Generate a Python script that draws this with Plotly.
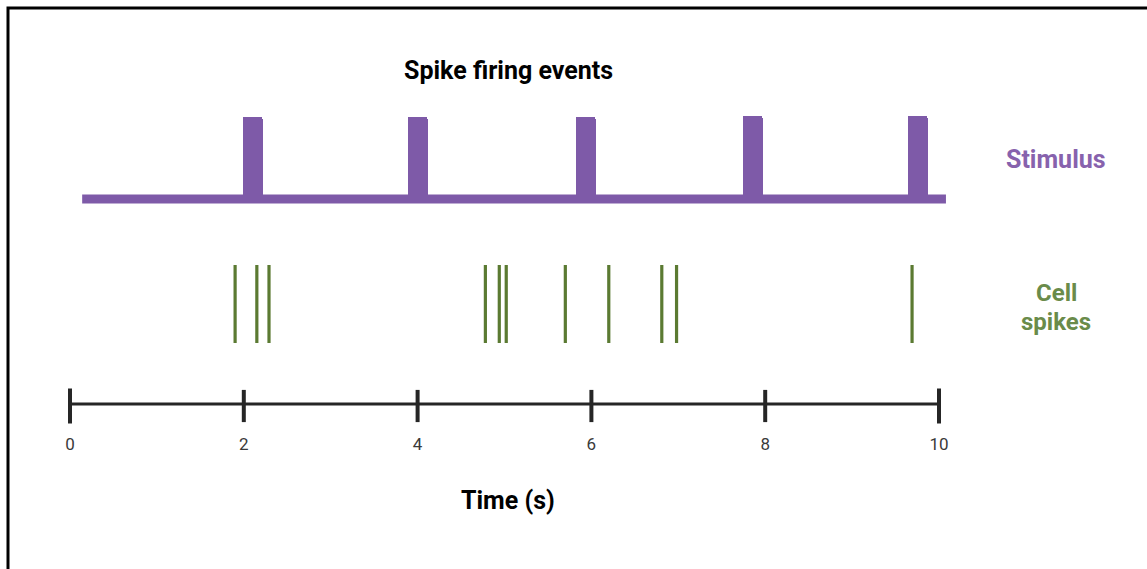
import plotly.graph_objects as go

# ---- data ----
tick_vals = [0, 2, 4, 6, 8, 10]
tick_text = ["0", "2", "4", "6", "8", "10"]
stim_onsets = [1.98, 3.89, 5.82, 7.74, 9.64]      # s
pulse_width = 0.23                                 # s
pulse_heights = [1.0, 1.0, 1.0, 1.02, 1.02]        # relative amplitude
stim_start, stim_end = 0.14, 10.08                 # s
spike_times = [1.90, 2.15, 2.29, 4.78, 4.94, 5.02, 5.70, 6.20, 6.81, 6.98, 9.69]

PURPLE = "#7e5aa8"
PURPLE_TXT = "#8762ad"
GREEN = "#5b7a32"
GREEN_TXT = "#6a8b4a"
AXIS = "#262626"

W, H = 1147, 569
x_px0, x_scale = 70, 86.9           # pixel of t=0 and px per second
xr = [-0.5, 10.5]
def xdom(r):
    return [(x_px0 + x_scale * r[0]) / W, (x_px0 + x_scale * r[1]) / W]

def ydom(px_level0, px_per_unit, r):
    lo = px_level0 - px_per_unit * r[0]
    hi = px_level0 - px_per_unit * r[1]
    return [1 - lo / H, 1 - hi / H]

fig = go.Figure()

# stimulus baseline
fig.add_trace(go.Scatter(
    x=[stim_start, stim_end], y=[0, 0], mode="lines",
    line=dict(color=PURPLE, width=9), xaxis="x", yaxis="y",
    hoverinfo="skip", showlegend=False))
# stimulus pulses
fig.add_trace(go.Bar(
    x=[o + pulse_width / 2 for o in stim_onsets], y=pulse_heights, base=0,
    width=pulse_width, marker=dict(color=PURPLE, line=dict(width=0)),
    xaxis="x", yaxis="y", showlegend=False, hoverinfo="skip"))

# spikes
sx, sy = [], []
for t in spike_times:
    sx += [t, t, None]
    sy += [0, 1, None]
fig.add_trace(go.Scatter(
    x=sx, y=sy, mode="lines", line=dict(color=GREEN, width=3.2),
    xaxis="x", yaxis="y2", showlegend=False, hoverinfo="skip"))

# time axis line with crossing ticks
fig.add_trace(go.Scatter(
    x=[tick_vals[0], tick_vals[-1]], y=[0, 0], mode="lines",
    line=dict(color=AXIS, width=3), xaxis="x", yaxis="y3",
    showlegend=False, hoverinfo="skip"))
fig.add_trace(go.Scatter(
    x=tick_vals, y=[-0.1] * len(tick_vals), mode="markers",
    marker=dict(symbol="line-ns", size=[25, 23, 23, 23, 23, 25],
                color=AXIS, opacity=1,
                line=dict(color=AXIS, width=4)),
    xaxis="x", yaxis="y3", cliponaxis=False,
    showlegend=False, hoverinfo="skip"))

yr1 = [-0.2, 1.1]
yr2 = [-0.1, 1.1]
yr3 = [-1, 1]

fig.update_layout(
    width=W, height=H,
    margin=dict(l=0, r=0, t=0, b=0),
    paper_bgcolor="white", plot_bgcolor="rgba(0,0,0,0)",
    bargap=0, barcornerradius=2,
    xaxis=dict(domain=xdom(xr), range=xr, anchor="free",
               position=1 - 404 / H,
               tickmode="array", tickvals=tick_vals, ticktext=tick_text,
               ticks="", showline=False, showgrid=False, zeroline=False,
               ticklabelstandoff=28,
               tickfont=dict(family="Roboto", size=17, color="#3a3a3a")),
    yaxis=dict(domain=ydom(199, 82, yr1), range=yr1, visible=False,
               anchor="x"),
    yaxis2=dict(domain=ydom(343, 78, yr2), range=yr2, visible=False,
                anchor="x"),
    yaxis3=dict(domain=ydom(404, 20, yr3), range=yr3, visible=False,
                anchor="x"),
    showlegend=False,
    shapes=[dict(type="rect", xref="paper", yref="paper",
                 x0=8 / W, x1=1.01, y0=-0.02, y1=1 - 8 / H,
                 line=dict(color="black", width=3), layer="above")],
    annotations=[
        dict(text="Spike firing events", xref="paper", yref="paper",
             x=508 / W, y=1 - 70 / H, xanchor="center", yanchor="middle",
             showarrow=False,
             font=dict(family="Roboto", size=25, weight=700, color="black")),
        dict(text="Stimulus", xref="paper", yref="paper",
             x=1056 / W, y=1 - 160 / H, xanchor="center", yanchor="middle",
             showarrow=False,
             font=dict(family="Roboto", size=25, weight=700, color=PURPLE_TXT)),
        dict(text="Cell", xref="paper", yref="paper",
             x=1056 / W, y=1 - 293 / H, xanchor="center", yanchor="middle",
             showarrow=False,
             font=dict(family="Roboto", size=24, weight=700, color=GREEN_TXT)),
        dict(text="spikes", xref="paper", yref="paper",
             x=1056 / W, y=1 - 322 / H, xanchor="center", yanchor="middle",
             showarrow=False,
             font=dict(family="Roboto", size=24, weight=700, color=GREEN_TXT)),
        dict(text="Time (s)", xref="paper", yref="paper",
             x=508 / W, y=1 - 500 / H, xanchor="center", yanchor="middle",
             showarrow=False,
             font=dict(family="Roboto", size=25, weight=700, color="black")),
    ],
)

fig.write_html("out.html", config={"displayModeBar": False},
               post_script="document.body.style.margin='0';document.body.style.overflow='hidden';")
